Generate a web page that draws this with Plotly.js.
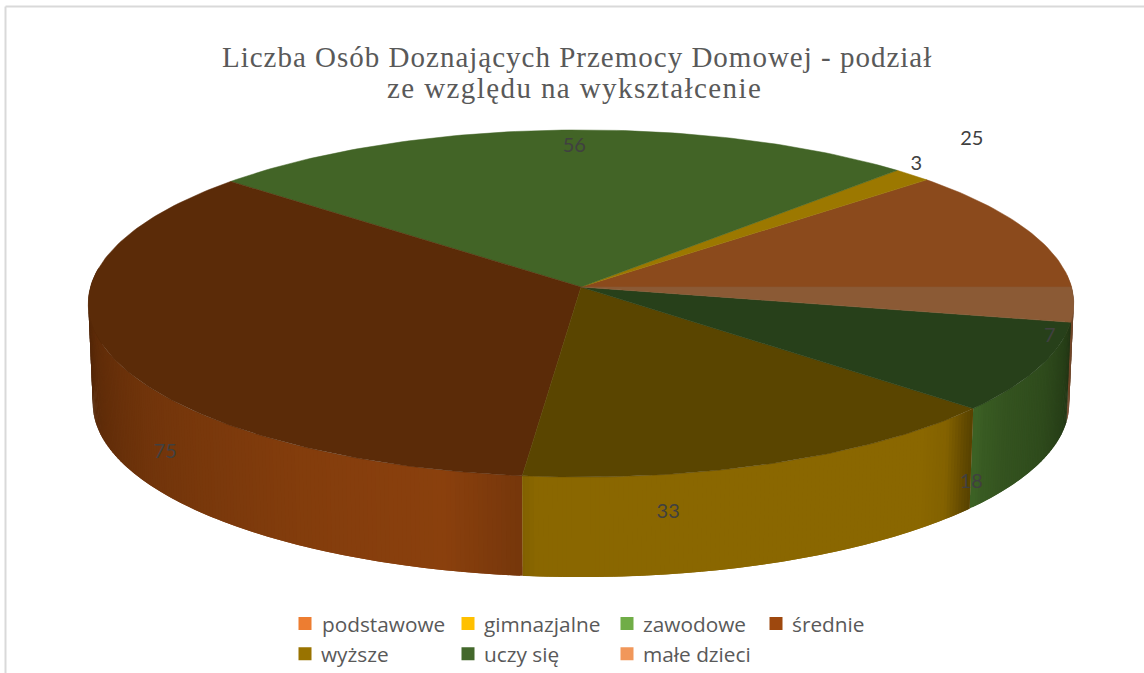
<!DOCTYPE html>
<html><head><meta charset="utf-8">
<script src="https://cdn.plot.ly/plotly-3.0.1.min.js"></script>
<style>html,body{margin:0;padding:0;background:#fff}#c{width:1144px;height:673px}
.gtitle{letter-spacing:1px}</style></head>
<body><div id="c"></div>
<script>
// DATA
const categories = ['podstawowe','gimnazjalne','zawodowe','średnie','wyższe','uczy się','małe dzieci'];
const values = [25,3,56,75,33,18,7];
const titleText = 'Liczba Osób Doznających Przemocy Domowej - podział<br>ze względu na wykształcenie';

// STYLE
const legendColors = ['#ED7D31','#FFC000','#70AD47','#9E480E','#997300','#43682B','#F1975A'];
const topColors    = ['#8B4A1C','#9C7800','#426426','#5B2B08','#5A4500','#27401A','#8B5A35'];
const sideColors   = ['#9A5020','#A88000','#3F6526','#8A400D','#8A6700','#3F6526','#9A6038'];
const labelOffsets = [[-53,-88],[4,-10],[16,17],[57,100],[-107,50],[-68,116],[-24,32.5]];
const legendLeft = [298,461,620,769,298,461,620];
const legendRow  = [0.073,0.073,0.073,0.073,0.028,0.028,0.028];

// GEOMETRY: a tilted disc seen in perspective
const TOP = {cx:581, cy:287, R:490.5, k:172, p:0.095};
const BOT = {cx:581, cy:387, R:486, k:172, p:0.095};
const rad = d => d*Math.PI/180;
function proj(g, deg){
  const c = Math.cos(rad(deg)), s = Math.sin(rad(deg));
  const f = 1/(1-g.p*s);
  return [g.cx+g.R*c*f, g.cy+g.k*s*f];
}
// slices run clockwise on screen from 3 o'clock, last category first
const total = values.reduce((a,b)=>a+b,0);
const order = values.map((_,i)=>values.length-1-i);
const slices = []; let a0 = 0;
order.forEach(i=>{ const a1 = a0+values[i]/total*360; slices[i]={a0,a1,mid:(a0+a1)/2}; a0=a1; });

function interp(stops, t){
  if(t<=stops[0][0]) return stops[0][1];
  for(let i=1;i<stops.length;i++){
    if(t<=stops[i][0]){
      const u=(t-stops[i-1][0])/(stops[i][0]-stops[i-1][0]);
      return stops[i-1][1]+u*(stops[i][1]-stops[i-1][1]);
    }
  }
  return stops[stops.length-1][1];
}
// side lighting per slice, over its angle
function light(i,t){
  const s = slices[i];
  if(i===5) return interp([[s.a0,.5],[s.a0+4,.6],[s.a0+14,.74],[s.a1-6,.82],[s.a1-1.5,.9],[s.a1,.97]],t);
  if(i===4) return interp([[s.a0,.6],[s.a0+2,.72],[s.a0+5,.95],[s.a0+9,1],[s.a1-2,1],[s.a1,.92]],t);
  if(i===3) return interp([[s.a0,.86],[s.a0+8,1],[s.a0+25,.95],[s.a0+50,.82],[s.a0+68,.68],[s.a0+82,.52],[s.a1,.36]],t);
  return interp([[s.a0,.6],[s.a1,.75]],t);
}
function shade(hex,f){
  const n=parseInt(hex.slice(1),16);
  const c=[n>>16,(n>>8)&255,n&255].map(v=>Math.max(0,Math.min(255,Math.round(v*f))));
  return 'rgb('+c.join(',')+')';
}
const traces = [];
const base = {type:'scatter',mode:'lines',fill:'toself',hoverinfo:'skip',showlegend:false};
// side wall strips: painted back to front, each one overlapping what is already
// painted inside its own slice so no background shows through the joins
const STEP = 0.5, FROM = -4, TO = 186;
function sliceAt(t){
  const a=((t%360)+360)%360;
  return slices.findIndex(s=>a>=s.a0 && a<s.a1);
}
let edges = [];
for(let t=FROM;t<=TO;t+=STEP) edges.push(t);
slices.forEach(s=>{ if(s.a0>FROM && s.a0<TO) edges.push(s.a0); });
edges.sort((a,b)=>a-b);
const strips = [];
for(let j=0;j<edges.length-1;j++){
  let t=edges[j], e=edges[j+1];
  if(e-t<1e-6) continue;
  const m=(t+e)/2, i=sliceAt(m), s=slices[i];
  const lit=light(i,m<0?s.a1:m);
  if(m>=0){
    if(m<90) t=Math.max(t-STEP,s.a0); else e=Math.min(e+STEP,s.a1);
  }
  const pts=[proj(TOP,t),proj(TOP,(t+e)/2),proj(TOP,e),proj(BOT,e),proj(BOT,(t+e)/2),proj(BOT,t)];
  const col=shade(sideColors[i],lit);
  strips.push({depth:Math.sin(rad(m)),x:pts.map(p=>p[0]).concat(pts[0][0]),y:pts.map(p=>p[1]).concat(pts[0][1]),col});
}
strips.sort((a,b)=>a.depth-b.depth).forEach(s=>{
  traces.push({x:s.x,y:s.y,line:{width:0,color:s.col},fillcolor:s.col,...base});
});
// top faces
slices.forEach((s,i)=>{
  const xs=[TOP.cx], ys=[TOP.cy];
  const n=Math.max(4,Math.ceil(s.a1-s.a0));
  for(let j=0;j<=n;j++){ const p=proj(TOP,s.a0+(s.a1-s.a0)*j/n); xs.push(p[0]); ys.push(p[1]); }
  xs.push(TOP.cx); ys.push(TOP.cy);
  traces.push({x:xs,y:ys,line:{width:0.5,color:topColors[i]},fillcolor:topColors[i],...base});
});
// data labels
const lab = slices.map((s,i)=>{const p=proj(TOP,s.mid);return [p[0]+labelOffsets[i][0],p[1]+labelOffsets[i][1]];});
traces.push({type:'scatter',mode:'text',x:lab.map(p=>p[0]),y:lab.map(p=>p[1]),text:values.map(String),
  textposition:'middle center',textfont:{family:'Lato, Carlito, sans-serif',size:20,color:'#404040'},
  hoverinfo:'skip',showlegend:false});
// legend keys: one legend box per entry, so the columns can differ in width
const layout = {
  width:1144,height:673,margin:{l:0,r:0,t:0,b:0,pad:0,autoexpand:false},paper_bgcolor:'#fff',plot_bgcolor:'#fff',
  title:{text:titleText,x:0.5045,xanchor:'center',y:0.9,yref:'container',yanchor:'top',
    font:{family:'Liberation Serif, serif',size:29,color:'#595959'}},
  xaxis:{range:[0,1144],visible:false,fixedrange:true},
  yaxis:{range:[673,0],visible:false,fixedrange:true},
  showlegend:true,
  shapes:[{type:'line',xref:'x',yref:'y',x0:5.5,x1:5.5,y0:6.5,y1:673,line:{color:'#D9D9D9',width:2}},
          {type:'line',xref:'x',yref:'y',x0:5.5,x1:1144,y0:6.5,y1:6.5,line:{color:'#D9D9D9',width:2}}]
};
const legendId = i => i===0 ? 'legend' : 'legend'+(i+1);
categories.forEach((c,i)=>{
  const id = legendId(i);
  traces.push({type:'scatter',mode:'markers',x:[null],y:[null],name:c,legend:id,
    marker:{symbol:'square',size:13,color:legendColors[i]},hoverinfo:'skip',showlegend:true});
  layout[id] = {orientation:'h',xanchor:'left',yanchor:'middle',bgcolor:'rgba(0,0,0,0)',
    font:{family:'Open Sans, sans-serif',size:20.8,color:'#595959'},itemwidth:30,
    x:(legendLeft[i]-13)/1144,y:legendRow[i]};
});
Plotly.newPlot('c',traces,layout,{displayModeBar:false,staticPlot:true}).then(()=>{
  // second title line: tighter leading and slightly wider tracking, as in the reference
  document.querySelectorAll('.gtitle .line').forEach((l,i)=>{
    if(i===1){ l.setAttribute('dy','31'); l.style.letterSpacing='1.4px';
      l.setAttribute('x', parseFloat(l.getAttribute('x'))-2.5); }
  });
  // legend text sits a little closer to its key in the reference
  categories.forEach((c,i)=>{
    document.querySelectorAll('.'+legendId(i)+'text').forEach(t=>{
      t.setAttribute('x', parseFloat(t.getAttribute('x'))-(i===0?3:4));
    });
  });
});
</script></body></html>
